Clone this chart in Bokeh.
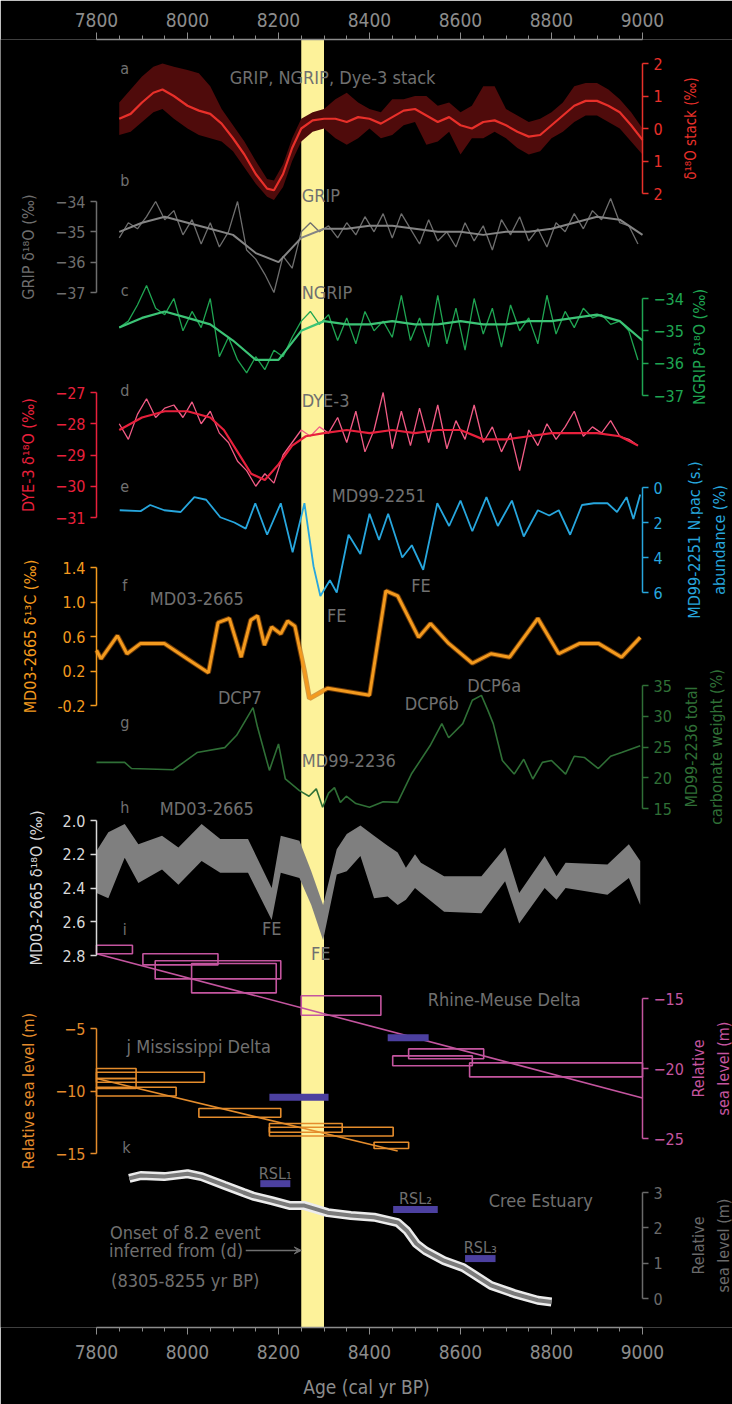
import math
from bokeh.plotting import figure
from bokeh.models import (Range1d, LinearAxis, FixedTicker, BoxAnnotation, Arrow,
                          VeeHead, PrintfTickFormatter)
from bokeh.core.properties import value
from bokeh.embed import file_html
from bokeh.resources import INLINE

# ------------------------------------------------------------------ data
x_ticks = [7800, 8000, 8200, 8400, 8600, 8800, 9000]
x_minor = [7850, 7900, 7950, 8050, 8100, 8150, 8250, 8300, 8350, 8450, 8500, 8550,
           8650, 8700, 8750, 8850, 8900, 8950]
event_window = [8250, 8300]

# (a) GRIP, NGRIP, Dye-3 stack
stack_age = [7850, 7875, 7900, 7925, 7945, 7970, 8000, 8025, 8050, 8075, 8100, 8125, 8150,
             8175, 8190, 8210, 8230, 8250, 8275, 8300, 8325, 8350, 8375, 8400, 8425, 8450,
             8475, 8500, 8525, 8550, 8575, 8600, 8625, 8650, 8675, 8700, 8725, 8750, 8775,
             8800, 8825, 8850, 8875, 8900, 8925, 8950, 8975, 9000]
stack_val = [0.3, 0.45, 0.8, 1.1, 1.2, 1.0, 0.7, 0.55, 0.45, 0.15, -0.3, -0.8, -1.4,
             -1.85, -1.9, -1.4, -0.6, 0.0, 0.25, 0.3, 0.3, 0.2, 0.35, 0.3, 0.15, 0.35,
             0.55, 0.6, 0.4, 0.2, 0.35, 0.1, 0.0, 0.2, 0.25, 0.1, -0.1, -0.25, -0.2,
             0.1, 0.4, 0.7, 0.85, 0.85, 0.7, 0.5, 0.1, -0.35]
stack_hi = [0.8, 1.2, 1.6, 1.9, 2.0, 1.9, 1.8, 1.7, 1.3, 0.6, 0.1, -0.4, -1.0,
            -1.55, -1.6, -1.1, -0.3, 0.3, 0.5, 0.6, 0.9, 1.1, 0.8, 0.6, 0.5, 0.9,
            0.9, 1.0, 1.0, 0.7, 0.8, 0.5, 0.7, 1.3, 1.3, 0.6, 0.4, 0.2, 0.3,
            0.5, 0.8, 1.3, 1.4, 1.4, 1.2, 0.9, 0.5, 0.0]
stack_lo = [-0.2, -0.1, 0.2, 0.5, 0.6, 0.3, 0.0, -0.2, -0.3, -0.4, -0.7, -1.2, -1.7,
            -2.1, -2.2, -1.8, -1.0, -0.4, -0.1, 0.0, -0.3, -0.5, -0.3, 0.0, -0.3, -0.2,
            0.1, 0.2, -0.5, -0.4, -0.1, -0.8, -0.3, -0.3, -0.1, -0.3, -0.6, -0.8, -0.7,
            -0.3, -0.1, 0.2, 0.4, 0.4, 0.2, 0.0, -0.4, -0.8]

# (b)-(d) ice cores, 20-yr values and smoothed curves
ice_age = [7850, 7870, 7890, 7910, 7930, 7950, 7970, 7990, 8010, 8030, 8050, 8070, 8090,
           8110, 8130, 8150, 8170, 8190, 8210, 8230, 8250, 8270, 8290, 8310, 8330, 8350,
           8370, 8390, 8410, 8430, 8450, 8470, 8490, 8510, 8530, 8550, 8570, 8590, 8610,
           8630, 8650, 8670, 8690, 8710, 8730, 8750, 8770, 8790, 8810, 8830, 8850, 8870,
           8890, 8910, 8930, 8950, 8970, 8990]
grip_d18o = [-35.2, -34.7, -34.9, -34.5, -34.0, -34.6, -34.3, -35.1, -34.6, -35.4, -34.7,
             -35.5, -35.0, -34.0, -35.6, -35.9, -36.4, -37.0, -35.8, -36.2, -35.0, -34.7,
             -35.0, -34.8, -35.2, -34.7, -35.1, -34.5, -35.0, -34.4, -35.2, -34.4, -34.9,
             -35.4, -34.6, -35.3, -35.0, -35.5, -34.7, -35.3, -34.8, -35.6, -34.6, -35.1,
             -34.5, -35.3, -34.9, -35.5, -34.7, -35.0, -34.4, -34.9, -34.3, -34.6, -33.9,
             -34.7, -34.8, -35.4]
ngrip_d18o = [-34.9, -34.7, -34.2, -33.6, -34.3, -34.5, -34.0, -35.0, -34.4, -34.9, -34.0,
              -35.8, -35.2, -35.9, -36.3, -35.8, -36.2, -35.6, -35.8, -35.2, -34.7, -34.4,
              -34.8, -34.5, -35.3, -34.6, -35.4, -34.4, -35.0, -34.7, -35.2, -33.9, -35.3,
              -34.6, -35.5, -33.9, -35.4, -34.3, -35.6, -34.0, -35.1, -34.3, -35.5, -34.2,
              -35.0, -34.6, -35.4, -33.9, -35.1, -34.4, -34.9, -34.3, -34.6, -34.5, -34.8,
              -34.7, -35.0, -35.9]
dye3_d18o = [-28.0, -28.5, -27.7, -27.2, -27.8, -27.5, -27.4, -27.8, -27.3, -28.0, -27.6,
             -28.3, -28.6, -29.2, -29.5, -30.0, -29.6, -29.9, -29.0, -28.6, -28.2, -28.4,
             -28.1, -28.3, -27.8, -28.6, -27.6, -28.9, -28.2, -27.0, -28.8, -27.6, -28.7,
             -27.5, -28.6, -27.4, -28.8, -27.9, -28.5, -27.4, -28.6, -28.1, -28.9, -28.3,
             -29.5, -28.2, -28.7, -28.0, -28.5, -28.1, -27.6, -28.4, -28.1, -28.3, -27.9,
             -28.4, -28.5, -28.7]
smooth_age = [7850, 7900, 7950, 8000, 8050, 8100, 8150, 8200, 8250, 8300, 8350, 8400, 8450,
              8500, 8550, 8600, 8650, 8700, 8750, 8800, 8850, 8900, 8950, 9000]
grip_smooth = [-35.0, -34.7, -34.5, -34.7, -34.9, -35.1, -35.7, -36.0, -35.2, -34.9, -34.9,
               -34.8, -34.8, -34.9, -35.0, -35.0, -35.1, -35.0, -35.0, -34.9, -34.7, -34.5,
               -34.6, -35.1]
ngrip_smooth = [-34.9, -34.6, -34.4, -34.6, -34.8, -35.3, -35.9, -35.9, -35.0, -34.7, -34.8,
                -34.8, -34.7, -34.8, -34.8, -34.7, -34.8, -34.8, -34.7, -34.7, -34.6, -34.5,
                -34.7, -35.3]
dye3_smooth_age = [7850, 7900, 7950, 8000, 8050, 8080, 8110, 8140, 8170, 8200, 8230, 8260,
                   8300, 8350, 8400, 8450, 8500, 8550, 8600, 8650, 8700, 8750, 8800, 8850,
                   8900, 8950, 8990]
dye3_smooth = [-28.2, -27.8, -27.6, -27.6, -27.8, -28.2, -28.9, -29.6, -29.8, -29.3, -28.7,
               -28.4, -28.3, -28.2, -28.3, -28.2, -28.3, -28.2, -28.2, -28.5, -28.5, -28.4,
               -28.3, -28.3, -28.3, -28.4, -28.7]

# (e) MD99-2251 N. pachyderma (s.) abundance (%)
npac_age = [7851, 7897, 7918, 7949, 7985, 8015, 8041, 8072, 8103, 8128, 8149, 8175, 8205,
            8231, 8257, 8277, 8292, 8313, 8328, 8354, 8380, 8400, 8421, 8441, 8472, 8493,
            8518, 8549, 8575, 8600, 8626, 8657, 8682, 8713, 8739, 8770, 8795, 8816, 8841,
            8867, 8893, 8923, 8944, 8965, 8980, 8995]
npac_val = [1.3, 1.35, 1.0, 1.3, 1.4, 0.55, 0.7, 1.7, 2.0, 2.35, 0.9, 2.7, 0.9,
            3.7, 0.9, 4.5, 6.2, 5.3, 6.0, 2.7, 3.8, 1.5, 3.0, 1.5, 4.0, 3.3,
            4.7, 0.9, 2.2, 0.75, 2.5, 0.55, 2.2, 0.75, 2.8, 1.3, 1.6, 1.3, 2.7,
            1.0, 0.9, 0.9, 1.4, 0.55, 1.8, 0.4]

# (f) MD03-2665 d13C
d13c_age = [7800, 7810, 7846, 7867, 7897, 7949, 8000, 8046, 8067, 8092, 8118, 8139, 8154,
            8169, 8185, 8205, 8220, 8236, 8257, 8268, 8308, 8400, 8436, 8462, 8508, 8534,
            8574, 8626, 8667, 8708, 8770, 8816, 8862, 8903, 8954, 8995]
d13c_val = [0.44, 0.34, 0.61, 0.40, 0.52, 0.52, 0.34, 0.18, 0.76, 0.81, 0.36, 0.79, 0.84,
            0.50, 0.71, 0.63, 0.78, 0.72, 0.20, -0.12, 0.0, -0.08, 1.13, 1.07, 0.59, 0.75,
            0.52, 0.29, 0.40, 0.36, 0.81, 0.40, 0.52, 0.52, 0.36, 0.59]

# (g) MD99-2236 total carbonate weight (%)
carb_age = [7800, 7862, 7877, 7969, 8021, 8082, 8108, 8144, 8154, 8180, 8200, 8215, 8246,
            8267, 8283, 8297, 8310, 8323, 8336, 8349, 8370, 8400, 8430, 8462, 8492, 8533,
            8559, 8574, 8605, 8626, 8646, 8660, 8672, 8692, 8718, 8739, 8759, 8780, 8800,
            8831, 8850, 8872, 8903, 8930, 8954, 8995]
carb_val = [22.5, 22.5, 21.5, 21.3, 24.1, 24.9, 26.9, 31.4, 28.2, 21.2, 25.5, 19.8, 17.9,
            17.0, 18.2, 15.2, 17.5, 18.4, 16.0, 17.0, 15.8, 15.2, 16.1, 16.0, 20.6, 25.2,
            28.8, 26.5, 28.8, 32.6, 33.4, 31.0, 28.8, 22.8, 20.6, 23.0, 19.8, 22.5, 22.8,
            20.6, 23.5, 23.3, 21.5, 23.5, 24.1, 25.2]

# (h) MD03-2665 d18O envelope
d18o_age = [7800, 7826, 7862, 7892, 7944, 7980, 8031, 8072, 8133, 8185, 8205, 8246, 8272,
            8298, 8328, 8350, 8380, 8410, 8440, 8462, 8480, 8500, 8513, 8564, 8646, 8698,
            8729, 8785, 8811, 8831, 8923, 8970, 8995]
d18o_top = [2.18, 2.07, 2.02, 2.14, 2.09, 2.16, 2.02, 2.11, 2.11, 2.40, 2.09, 2.12, 2.30,
            2.50, 2.17, 2.08, 2.03, 2.09, 2.15, 2.19, 2.28, 2.20, 2.25, 2.33, 2.33, 2.16,
            2.43, 2.21, 2.33, 2.25, 2.26, 2.14, 2.24]
d18o_bot = [2.43, 2.46, 2.22, 2.37, 2.29, 2.38, 2.24, 2.31, 2.31, 2.59, 2.31, 2.34, 2.50,
            2.71, 2.32, 2.30, 2.21, 2.46, 2.45, 2.50, 2.47, 2.40, 2.43, 2.54, 2.55, 2.36,
            2.61, 2.40, 2.47, 2.40, 2.44, 2.34, 2.50]

# (i) Rhine-Meuse Delta sea-level index boxes and trend
rm_left = [7800, 7902, 7929, 8009, 8250, 8486, 8451, 8620]
rm_right = [7879, 8067, 8205, 8195, 8425, 8651, 8626, 9000]
rm_top = [-11.2, -11.8, -12.3, -12.5, -14.8, -18.6, -19.1, -19.6]
rm_bottom = [-11.8, -12.6, -13.6, -14.6, -16.2, -19.3, -19.8, -20.6]
rm_trend_age = [7800, 9000]
rm_trend = [-11.8, -22.1]

# (j) Mississippi Delta
ms_left = [7800, 7800, 7800, 7800, 8025, 8180, 8180, 8410]
ms_right = [7887, 8037, 7887, 7975, 8205, 8340, 8452, 8486]
ms_top = [-8.2, -8.5, -9.0, -9.7, -11.4, -12.6, -12.9, -14.1]
ms_bottom = [-9.0, -9.3, -9.8, -10.4, -12.1, -13.3, -13.6, -14.6]
ms_trend_age = [7800, 8462]
ms_trend = [-9.0, -14.8]

# RSL jump windows (purple bars)
jump_rm = dict(start=[8440], end=[8530], level=[-17.8])
jump_ms = dict(start=[8180], end=[8310], level=[-10.5])
rsl_names = ["RSL\u2081", "RSL\u2082", "RSL\u2083"]
rsl_start = [8160, 8452, 8610]
rsl_end = [8226, 8550, 8677]
rsl_level = [3.25, 2.52, 1.13]

# (k) Cree Estuary
cree_age = [7872, 7897, 7949, 8000, 8031, 8082, 8123, 8144, 8185, 8226, 8257, 8308, 8359,
            8410, 8462, 8482, 8503, 8523, 8564, 8605, 8615, 8667, 8718, 8770, 8800]
cree_rsl = [3.40, 3.48, 3.45, 3.53, 3.45, 3.20, 3.00, 2.90, 2.77, 2.63, 2.63, 2.43, 2.35,
            2.30, 2.15, 1.92, 1.55, 1.35, 1.07, 0.88, 0.80, 0.37, 0.14, -0.05, -0.10]

# tick values of each panel axis
ticks = {
    "a": [2, 1, 0, -1, -2], "b": [-34, -35, -36, -37], "c": [-34, -35, -36, -37],
    "d": [-27, -28, -29, -30, -31], "e": [0, 2, 4, 6], "f": [1.4, 1.0, 0.6, 0.2, -0.2],
    "g": [35, 30, 25, 20, 15], "h": [2.0, 2.2, 2.4, 2.6, 2.8], "i": [-15, -20, -25],
    "j": [-5, -10, -15], "k": [3, 2, 1, 0],
}

# ------------------------------------------------------------------ layout
FONT = "DejaVu Sans Condensed, Liberation Sans"
W, H = 732, 1404
TOP, BOT = 39, 1327          # frame rows (px)
AX_L, AX_R = 96, 642         # columns of the 7800 / 9000 ticks (px)

# pixel calibration of each panel: (value1, row1, value2, row2)
CAL = {
    "a": (2, 63, -2, 193), "b": (-34, 201, -37, 292), "c": (-34, 298, -37, 395),
    "d": (-27, 392, -31, 517), "e": (0, 487, 6, 592), "f": (1.4, 567, -0.2, 705),
    "g": (35, 685, 15, 808), "h": (2.0, 820, 2.8, 955), "i": (-15, 998, -25, 1138),
    "j": (-5, 1028, -15, 1153), "k": (3, 1192, 0, 1298),
}


def cal_range(v1, p1, v2, p2):
    k = (v2 - v1) / (p2 - p1)
    return Range1d(start=v1 + k * (BOT - p1), end=v1 + k * (TOP - p1))


# the frame spans the full width so that panel axes can sit at the 7800 / 9000 columns
yr_per_px = (x_ticks[-1] - x_ticks[0]) / (AX_R - AX_L)
x_range = Range1d(x_ticks[0] - AX_L * yr_per_px, x_ticks[-1] + (W - AX_R) * yr_per_px)


def col(px):
    """x coordinate (years) of a pixel column"""
    return x_range.start + px * yr_per_px


p = figure(width=W, height=H, x_range=x_range, y_range=Range1d(0, 1),
           output_backend="svg", toolbar_location=None, y_axis_location=None,
           min_border_left=0, min_border_right=0, min_border_top=TOP,
           min_border_bottom=H - BOT, background_fill_color="black",
           border_fill_color="black", outline_line_color=None)
p.grid.visible = False
p.extra_y_ranges = {k: cal_range(*v) for k, v in CAL.items()}

# 8.2 ka event window
p.add_layout(BoxAnnotation(left=event_window[0], right=event_window[1], fill_color="#fdf29a",
                           fill_alpha=1.0, line_color=None, level="underlay"))

# x axes
AX_GREY = "#8c8c8c"


def style_x(ax):
    ax.ticker = FixedTicker(ticks=x_ticks, minor_ticks=x_minor)
    ax.bounds = (x_ticks[0], x_ticks[-1])
    ax.axis_line_color = AX_GREY
    ax.axis_line_width = 1.5
    ax.major_tick_line_color = AX_GREY
    ax.minor_tick_line_color = AX_GREY
    ax.major_tick_out = 7
    ax.major_tick_in = 0
    ax.minor_tick_out = 4
    ax.minor_tick_in = 0
    ax.major_label_text_color = AX_GREY
    ax.major_label_text_font = FONT
    ax.major_label_text_font_size = "19px"
    ax.axis_label_text_color = AX_GREY
    ax.axis_label_text_font = FONT
    ax.axis_label_text_font_size = "19px"
    ax.axis_label_text_font_style = "normal"


style_x(p.xaxis[0])
p.xaxis[0].axis_label = "Age (cal yr BP)"
p.xaxis[0].major_label_standoff = 10
p.xaxis[0].axis_label_standoff = 14
top_ax = LinearAxis()
style_x(top_ax)
top_ax.major_label_standoff = 6
p.add_layout(top_ax, "above")


def y_axis(name, side, color, label=None, overrides=None, fmt=None):
    t = ticks[name]
    ax = LinearAxis(y_range_name=name, ticker=FixedTicker(ticks=t, minor_ticks=[]),
                    bounds=(min(t), max(t)),
                    fixed_location=x_ticks[0] if side == "left" else x_ticks[-1],
                    axis_line_color=color, axis_line_width=1.5,
                    major_tick_line_color=color, major_tick_line_width=1.5,
                    major_tick_out=6, major_tick_in=0, minor_tick_out=0, minor_tick_in=0,
                    major_label_text_color=color, major_label_text_font=FONT,
                    major_label_text_font_size="16px", major_label_standoff=5,
                    axis_label_text_color=color, axis_label_text_font=FONT,
                    axis_label_text_font_size="16px", axis_label_text_font_style="normal",
                    axis_label_standoff=14)
    if label:
        ax.axis_label = label
    if overrides:
        ax.major_label_overrides = overrides
    if fmt:
        ax.formatter = PrintfTickFormatter(format=fmt)
    p.add_layout(ax, side)


C_STACK, C_GRIP, C_NGRIP, C_DYE = "#e8302a", "#6e6e6e", "#1fa552", "#e8203c"
C_NPAC, C_D13C, C_CARB, C_D18O = "#27a6dd", "#f39a1e", "#2f6f36", "#d8d8d8"
C_RM, C_MS, C_CREE, C_JUMP = "#c4559f", "#e48c2c", "#6a6a6a", "#4c40a0"
C_TXT = "#707070"

y_axis("a", "right", C_STACK, overrides={-1: "1", -2: "2"})
y_axis("b", "left", C_GRIP, "GRIP \u03b4\u00b9\u2078O (\u2030)")
y_axis("c", "right", C_NGRIP)
y_axis("d", "left", C_DYE, "DYE-3 \u03b4\u00b9\u2078O (\u2030)")
y_axis("e", "right", C_NPAC)
y_axis("f", "left", C_D13C, "MD03-2665 \u03b4\u00b9\u00b3C (\u2030)", fmt="%.1f")
y_axis("g", "right", C_CARB)
y_axis("h", "left", C_D18O, "MD03-2665 \u03b4\u00b9\u2078O (\u2030)", fmt="%.1f")
y_axis("i", "right", C_RM)
y_axis("j", "left", C_MS, "Relative sea level (m)")
y_axis("k", "right", C_CREE)

# right-hand axis titles, reading bottom-to-top: (panel, lines, columns px, colour, size)
right_titles = [
    ("a", ["\u03b4\u00b9\u2078O stack (\u2030)"], [690], C_STACK, "15px"),
    ("c", ["NGRIP \u03b4\u00b9\u2078O (\u2030)"], [699], C_NGRIP, "16px"),
    ("e", ["MD99-2251 N.pac (s.)", "abundance (%)"], [694, 719], C_NPAC, "16px"),
    ("g", ["MD99-2236 total", "carbonate weight (%)"], [691, 716], C_CARB, "16px"),
    ("i", ["Relative", "sea level (m)"], [698, 723], C_RM, "16px"),
    ("k", ["Relative", "sea level (m)"], [698, 723], C_CREE, "16px"),
]
for name, lines, cols, color, size in right_titles:
    mid = (min(ticks[name]) + max(ticks[name])) / 2
    p.text(x=[col(c) for c in cols], y=[mid] * len(lines), text=lines, y_range_name=name,
           angle=math.pi / 2, text_align="center", text_baseline="middle",
           text_color=color, text_font=value(FONT), text_font_size=size)

# ------------------------------------------------------------------ series
# (a)
p.varea(x=stack_age, y1=stack_lo, y2=stack_hi, fill_color="#4f0b0b", y_range_name="a")
p.line(stack_age, stack_val, line_color=C_STACK, line_width=2.2, y_range_name="a")
# (b)
p.line(ice_age, grip_d18o, line_color=C_GRIP, line_width=1.3, y_range_name="b")
p.line(smooth_age, grip_smooth, line_color="#858585", line_width=2, y_range_name="b")
# (c)
p.line(ice_age, ngrip_d18o, line_color=C_NGRIP, line_width=1.3, y_range_name="c")
p.line(smooth_age, ngrip_smooth, line_color="#3cc476", line_width=2.2, y_range_name="c")
# (d)
p.line(ice_age, dye3_d18o, line_color="#f25c86", line_width=1.3, y_range_name="d")
p.line(dye3_smooth_age, dye3_smooth, line_color=C_DYE, line_width=2.2, y_range_name="d")
# (e)
p.line(npac_age, npac_val, line_color=C_NPAC, line_width=1.8, y_range_name="e")
# (f)
p.line(d13c_age, d13c_val, line_color="#b8610a", line_width=5, line_alpha=0.6, y_range_name="f")
p.line(d13c_age, d13c_val, line_color=C_D13C, line_width=3, y_range_name="f")
# (g)
p.line(carb_age, carb_val, line_color=C_CARB, line_width=1.6, y_range_name="g")
# (h)
p.varea(x=d18o_age, y1=d18o_top, y2=d18o_bot, fill_color="#7f7f7f", y_range_name="h")
# (i)
p.quad(left=rm_left, right=rm_right, top=rm_top, bottom=rm_bottom, fill_color=None,
       line_color=C_RM, line_width=1.6, y_range_name="i")
p.line(rm_trend_age, rm_trend, line_color=C_RM, line_width=1.6, y_range_name="i")
p.segment(x0=jump_rm["start"], x1=jump_rm["end"], y0=jump_rm["level"], y1=jump_rm["level"],
          line_color=C_JUMP, line_width=7, y_range_name="i")
# (j)
p.quad(left=ms_left, right=ms_right, top=ms_top, bottom=ms_bottom, fill_color=None,
       line_color=C_MS, line_width=1.6, y_range_name="j")
p.line(ms_trend_age, ms_trend, line_color=C_MS, line_width=1.6, y_range_name="j")
p.segment(x0=jump_ms["start"], x1=jump_ms["end"], y0=jump_ms["level"], y1=jump_ms["level"],
          line_color=C_JUMP, line_width=7, y_range_name="j")
# (k)
p.line(cree_age, cree_rsl, line_color="#ececec", line_width=9, y_range_name="k")
p.line(cree_age, cree_rsl, line_color="#7a7a7a", line_width=4, y_range_name="k")
p.segment(x0=rsl_start, x1=rsl_end, y0=rsl_level, y1=rsl_level, line_color=C_JUMP,
          line_width=7, y_range_name="k")

# ------------------------------------------------------------------ annotations
notes = [
    # panel, x, y, text, align, size
    ("a", 7862, 1.85, "a", "center", "16px"),
    ("a", 8093, 1.57, "GRIP, NGRIP, Dye-3 stack", "left", "18px"),
    ("b", 7862, -33.3, "b", "center", "16px"),
    ("b", 8251, -33.8, "GRIP", "left", "18px"),
    ("c", 7862, -33.75, "c", "center", "16px"),
    ("c", 8251, -33.8, "NGRIP", "left", "18px"),
    ("d", 7862, -26.94, "d", "center", "16px"),
    ("d", 8251, -27.26, "DYE-3", "left", "18px"),
    ("e", 7862, -0.1, "e", "center", "16px"),
    ("e", 8317, 0.46, "MD99-2251", "left", "18px"),
    ("e", 8513, 5.6, "FE", "center", "18px"),
    ("e", 8328, 7.3, "FE", "center", "18px"),
    ("f", 7862, 1.19, "f", "center", "16px"),
    ("f", 7917, 1.04, "MD03-2665", "left", "18px"),
    ("g", 7862, 29.0, "g", "center", "16px"),
    ("g", 8115, 33.0, "DCP7", "center", "18px"),
    ("g", 8537, 32.1, "DCP6b", "center", "18px"),
    ("g", 8674, 35.0, "DCP6a", "center", "18px"),
    ("g", 8251, 22.8, "MD99-2236", "left", "18px"),
    ("h", 7862, 1.92, "h", "center", "16px"),
    ("h", 7939, 1.93, "MD03-2665", "left", "18px"),
    ("h", 8185, 2.64, "FE", "center", "18px"),
    ("h", 8293, 2.79, "FE", "center", "18px"),
    ("i", 7862, -10.1, "i", "center", "16px"),
    ("i", 8528, -15.1, "Rhine-Meuse Delta", "left", "18px"),
    ("j", 7866, -6.44, "j  Mississippi Delta", "left", "18px"),
    ("k", 7866, 4.27, "k", "center", "16px"),
    ("k", 8662, 2.77, "Cree Estuary", "left", "18px"),
    ("k", 7995, 1.87, "Onset of 8.2 event", "center", "18px"),
    ("k", 7975, 1.36, "inferred from (d)", "center", "18px"),
    ("k", 7995, 0.51, "(8305-8255 yr BP)", "center", "18px"),
]
for name in CAL:
    rows = [n for n in notes if n[0] == name]
    for align in ("left", "center"):
        sel = [r for r in rows if r[4] == align]
        for size in ("16px", "18px"):
            s2 = [r for r in sel if r[5] == size]
            if not s2:
                continue
            p.text(x=[r[1] for r in s2], y=[r[2] for r in s2], text=[r[3] for r in s2],
                   y_range_name=name, text_align=align, text_baseline="middle",
                   text_color=C_TXT, text_font=value(FONT), text_font_size=size)

p.text(x=[(a + b) / 2 for a, b in zip(rsl_start, rsl_end)], y=[v + 0.3 for v in rsl_level],
       text=rsl_names, y_range_name="k", text_align="center", text_baseline="middle",
       text_color=C_TXT, text_font=value(FONT), text_font_size="16px")

p.add_layout(Arrow(x_start=8128, y_start=1.36, x_end=event_window[0], y_end=1.36,
                   y_range_name="k", line_color=C_TXT, line_width=1.5,
                   end=VeeHead(size=7, line_color=C_TXT, fill_color=C_TXT)))

open("out.html", "w").write(file_html(p, INLINE))
